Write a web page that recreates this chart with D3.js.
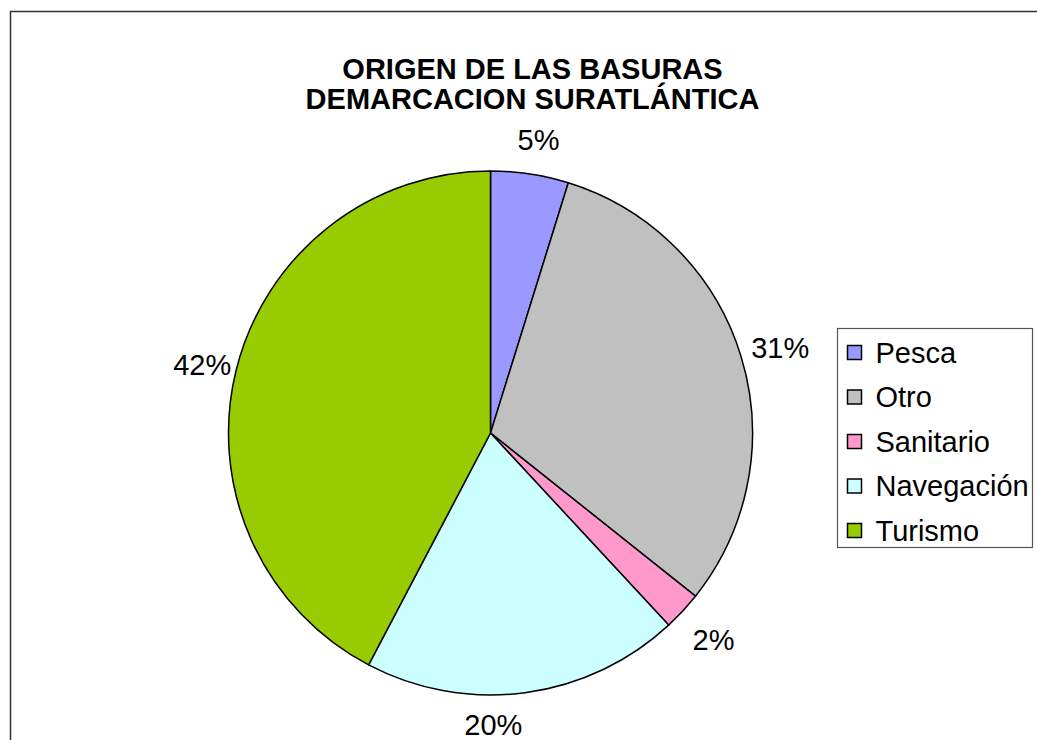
<!DOCTYPE html>
<html>
<head>
<meta charset="utf-8">
<script src="https://cdn.jsdelivr.net/npm/d3@7/dist/d3.min.js"></script>
<style>
  html, body { margin: 0; padding: 0; background: #fff; }
  svg { display: block; }
  text { font-family: "Liberation Sans", Arial, sans-serif; }
</style>
</head>
<body>
<svg id="chart" width="1037" height="740"></svg>
<script>
// Waste origin shares, South-Atlantic demarcation
const categories = ["Pesca", "Otro", "Sanitario", "Navegación", "Turismo"];
const shares = [4.8, 30.9, 2.4, 19.6, 42.3];
const colors = ["#9999FF", "#C0C0C0", "#FF99CC", "#CCFFFF", "#99CC00"];
const titleLines = ["ORIGEN DE LAS BASURAS", "DEMARCACION SURATLÁNTICA"];
// small angular nudge (degrees) for a label that would crowd the bottom edge
const labelNudge = [0, 0, 0, 7.6, 0];

const svg = d3.select("#chart");
const W = 1037, H = 740;

// outer chart frame (extends past the right and bottom edges)
svg.append("rect")
  .attr("x", 10.5).attr("y", 11.5)
  .attr("width", W + 20).attr("height", H + 20)
  .attr("fill", "#fff").attr("stroke", "#333").attr("stroke-width", 1.5);

// title
const title = svg.append("text")
  .attr("text-anchor", "middle")
  .attr("font-weight", "bold")
  .attr("font-size", 29)
  .attr("fill", "#000");
titleLines.forEach((t, i) => {
  title.append("tspan").attr("x", 532.5).attr("y", 79 + i * 30).text(t);
});

// pie
const cx = 490.5, cy = 433, r = 262;
const g = svg.append("g").attr("transform", `translate(${cx},${cy})`);
const pie = d3.pie().sort(null).value(d => d.v);
const data = categories.map((c, i) => ({ c, v: shares[i], i }));
const arcs = pie(data);
const arc = d3.arc().innerRadius(0).outerRadius(r);

g.selectAll("path.slice")
  .data(arcs)
  .join("path")
  .attr("class", "slice")
  .attr("d", arc)
  .attr("fill", d => colors[d.data.i])
  .attr("stroke", "#000")
  .attr("stroke-width", 1.5)
  .attr("stroke-linejoin", "round");

// percentage labels outside the slices, kept inside the frame
const total = d3.sum(shares);
const labelR = 300, labelFont = 29;
const maxCenterY = H - 18 - cy;
g.selectAll("text.pct")
  .data(arcs)
  .join("text")
  .attr("class", "pct")
  .attr("text-anchor", "middle")
  .attr("font-size", labelFont)
  .attr("fill", "#000")
  .each(function (d) {
    const a = (d.startAngle + d.endAngle) / 2 + labelNudge[d.data.i] * Math.PI / 180;
    const y = Math.min(-labelR * Math.cos(a), maxCenterY);
    d3.select(this)
      .attr("x", labelR * Math.sin(a) + 3)
      .attr("y", y + labelFont * 0.36 + 3);
  })
  .text(d => Math.round(d.data.v / total * 100) + "%");

// legend
const lg = svg.append("g").attr("transform", "translate(837.5,328.5)");
lg.append("rect")
  .attr("width", 195).attr("height", 219)
  .attr("fill", "#fff").attr("stroke", "#555").attr("stroke-width", 1.2);
const rowY = d3.scalePoint().domain(categories).range([24, 202]);
const items = lg.selectAll("g.item").data(categories).join("g")
  .attr("class", "item")
  .attr("transform", d => `translate(0,${rowY(d)})`);
items.append("rect")
  .attr("x", 10).attr("y", -7)
  .attr("width", 14).attr("height", 14)
  .attr("fill", (d, i) => colors[i])
  .attr("stroke", "#000").attr("stroke-width", 1.5);
items.append("text")
  .attr("x", 38).attr("y", 10)
  .attr("font-size", 29)
  .attr("fill", "#000")
  .text(d => d);
</script>
</body>
</html>
